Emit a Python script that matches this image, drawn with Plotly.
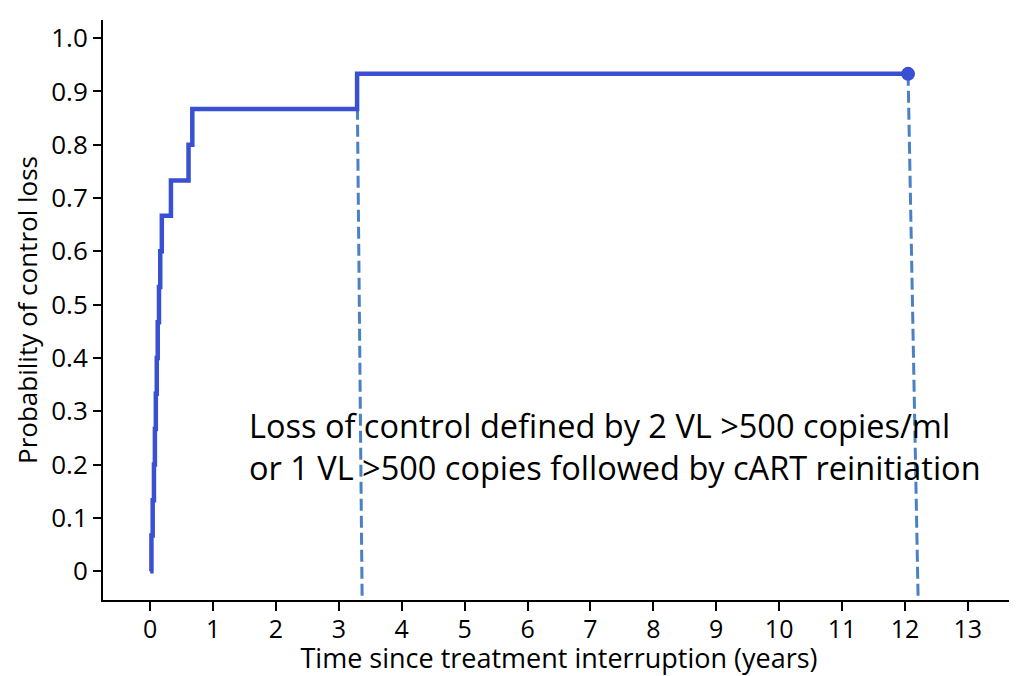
import plotly.graph_objects as go

# Kaplan-Meier style cumulative probability of control loss
event_times = [0.0, 0.02, 0.04, 0.06, 0.075, 0.09, 0.105, 0.12, 0.14, 0.16, 0.185,
               0.33, 0.61, 0.67, 3.29, 12.05]
cum_prob = [0.0, 0.067, 0.133, 0.2, 0.267, 0.333, 0.4, 0.467, 0.533, 0.6, 0.667,
            0.733, 0.8, 0.867, 0.933, 0.933]

censor_time = [12.05]
censor_prob = [0.933]

# hand-drawn dashed guide lines (top point, bottom point)
guide1_x = [3.29, 3.37]
guide1_y = [0.933, -0.054]
guide2_x = [12.05, 12.21]
guide2_y = [0.933, -0.054]

x_ticks = list(range(0, 14))
y_ticks = [0, 0.1, 0.2, 0.3, 0.4, 0.5, 0.6, 0.7, 0.8, 0.9, 1.0]
y_tick_text = ["0", "0.1", "0.2", "0.3", "0.4", "0.5", "0.6", "0.7", "0.8", "0.9", "1.0"]

note_line1 = "Loss of control defined by 2 VL >500 copies/ml"
note_line2 = "or 1 VL >500 copies followed by cART reinitiation"

LINE = "#3a50d2"
DASH = "#4a80c4"
FONT = "Open Sans"

fig = go.Figure()
for gx, gy in [(guide1_x, guide1_y), (guide2_x, guide2_y)]:
    fig.add_trace(go.Scatter(x=gx, y=gy, mode="lines",
                             line=dict(color=DASH, width=3, dash="12px,5px"),
                             hoverinfo="skip", showlegend=False, cliponaxis=False))
fig.add_trace(go.Scatter(x=event_times, y=cum_prob, mode="lines",
                         line=dict(color=LINE, width=4.5, shape="hv"),
                         showlegend=False))
fig.add_trace(go.Scatter(x=censor_time, y=censor_prob, mode="markers",
                         marker=dict(color=LINE, size=14),
                         showlegend=False))

fig.add_annotation(x=1.54, y=0.274, text=note_line1, showarrow=False,
                   xanchor="left", yanchor="middle",
                   font=dict(family=FONT, size=32.5, color="black"))
fig.add_annotation(x=1.54, y=0.195, text=note_line2, showarrow=False,
                   xanchor="left", yanchor="middle",
                   font=dict(family=FONT, size=32.5, color="black"))

# page body has an 8px default margin: size/offset the figure to compensate
fig.update_layout(
    width=1009, height=668,
    margin=dict(l=95, r=2, t=12, b=76),
    plot_bgcolor="white", paper_bgcolor="white",
    font=dict(family=FONT, color="black"),
)
fig.update_xaxes(range=[-0.75, 13.75], tickvals=x_ticks, ticks="outside",
                 ticklen=9, tickwidth=2, tickcolor="black",
                 showline=True, linecolor="black", linewidth=2,
                 showgrid=False, zeroline=False, automargin=False,
                 ticklabelstandoff=-3,
                 tickfont=dict(size=25, family=FONT),
                 title=dict(text="Time since treatment interruption (years)",
                            font=dict(size=27, family=FONT), standoff=6))
fig.update_yaxes(range=[-0.054, 1.034], tickvals=y_ticks, ticktext=y_tick_text,
                 ticks="outside", ticklen=8, tickwidth=2, tickcolor="black",
                 showline=True, linecolor="black", linewidth=2,
                 showgrid=False, zeroline=False, automargin=False,
                 tickfont=dict(size=26, family=FONT),
                 title=dict(text="Probability of control loss",
                            font=dict(size=26, family=FONT), standoff=6))

fig.write_html("out.html")
